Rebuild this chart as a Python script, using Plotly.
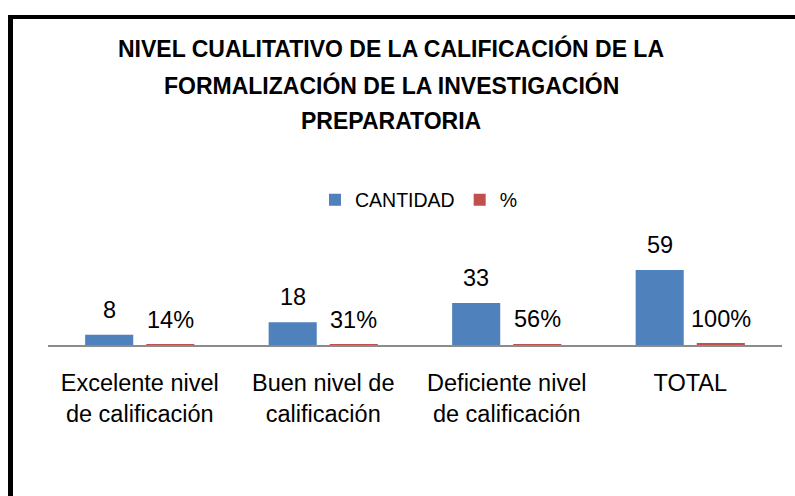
import plotly.graph_objects as go

categories = ["Excelente nivel de calificación", "Buen nivel de calificación",
              "Deficiente nivel de calificación", "TOTAL"]
tick_labels = ["Excelente nivel<br>de calificación", "Buen nivel de<br>calificación",
               "Deficiente nivel<br>de calificación", "TOTAL"]
cantidad = [8, 18, 33, 59]
porcentaje = [0.14, 0.31, 0.56, 1.00]
series_names = ["CANTIDAD", "%"]
title_lines = ["NIVEL CUALITATIVO DE LA CALIFICACIÓN DE LA",
               "FORMALIZACIÓN DE LA INVESTIGACIÓN",
               "PREPARATORIA"]

BLUE = "#4F81BD"
RED = "#C0504D"
FONT = "Liberation Sans, Arial, sans-serif"

W, H = 795, 496
L, R, T, B = 48, 13, 220, 151
PW, PH = W - L - R, H - T - B

def px_x(px):
    return (px - L) / PW

def px_y(py):
    return (H - B - py) / PH

fig = go.Figure()
fig.add_trace(go.Bar(x=categories, y=cantidad, name=series_names[0],
                     marker=dict(color=BLUE, line=dict(width=0))))
fig.add_trace(go.Bar(x=categories, y=porcentaje, name=series_names[1],
                     marker=dict(color=RED, line=dict(width=0))))

annotations = []
for c, v in zip(categories, cantidad):
    annotations.append(dict(x=c, y=v, xref="x", yref="y", text=str(v), showarrow=False,
                            xshift=-30.5, yshift=25, yanchor="middle",
                            font=dict(family=FONT, size=23.5, color="black")))
for c, v in zip(categories, porcentaje):
    annotations.append(dict(x=c, y=v, xref="x", yref="y", text=f"{round(v*100)}%",
                            showarrow=False, xshift=30.5, yshift=25, yanchor="middle",
                            font=dict(family=FONT, size=23.5, color="black")))
for line, yc in zip(title_lines, [48, 85, 121]):
    annotations.append(dict(x=px_x(391), y=px_y(yc), xref="paper", yref="paper",
                            text=f"<b>{line}</b>", showarrow=False,
                            xanchor="center", yanchor="middle",
                            font=dict(family=FONT, size=23, color="black")))

shapes = [
    dict(type="line", xref="paper", yref="paper", x0=px_x(8), x1=px_x(805),
         y0=px_y(17), y1=px_y(17), line=dict(color="black", width=4)),
    dict(type="line", xref="paper", yref="paper", x0=px_x(10.5), x1=px_x(10.5),
         y0=px_y(15), y1=px_y(510), line=dict(color="black", width=5)),
]

fig.update_layout(
    width=W, height=H,
    margin=dict(l=L, r=R, t=T, b=B, autoexpand=False),
    paper_bgcolor="white", plot_bgcolor="white",
    barmode="group", bargap=0.334, bargroupgap=0.213,
    font=dict(family=FONT, color="black"),
    showlegend=True,
    legend=dict(orientation="h", x=px_x(419), xanchor="center", y=px_y(200),
                yanchor="middle", font=dict(family=FONT, size=19.5, color="black"),
                bgcolor="rgba(0,0,0,0)", itemwidth=30),
    annotations=annotations,
    shapes=shapes,
    xaxis=dict(showline=True, linecolor="#8C8C8C", linewidth=2, showgrid=False,
               ticks="", tickvals=categories, ticktext=tick_labels,
               tickfont=dict(family=FONT, size=23.5, color="black"),
               ticklabelstandoff=16, automargin=False, zeroline=False),
    yaxis=dict(range=[0, PH / 1.27], visible=False, showgrid=False, zeroline=False,
               automargin=False),
)

fig.write_html("out.html", config={"displayModeBar": False},
               post_script="document.body.style.margin='0';document.body.style.overflow='hidden';")
